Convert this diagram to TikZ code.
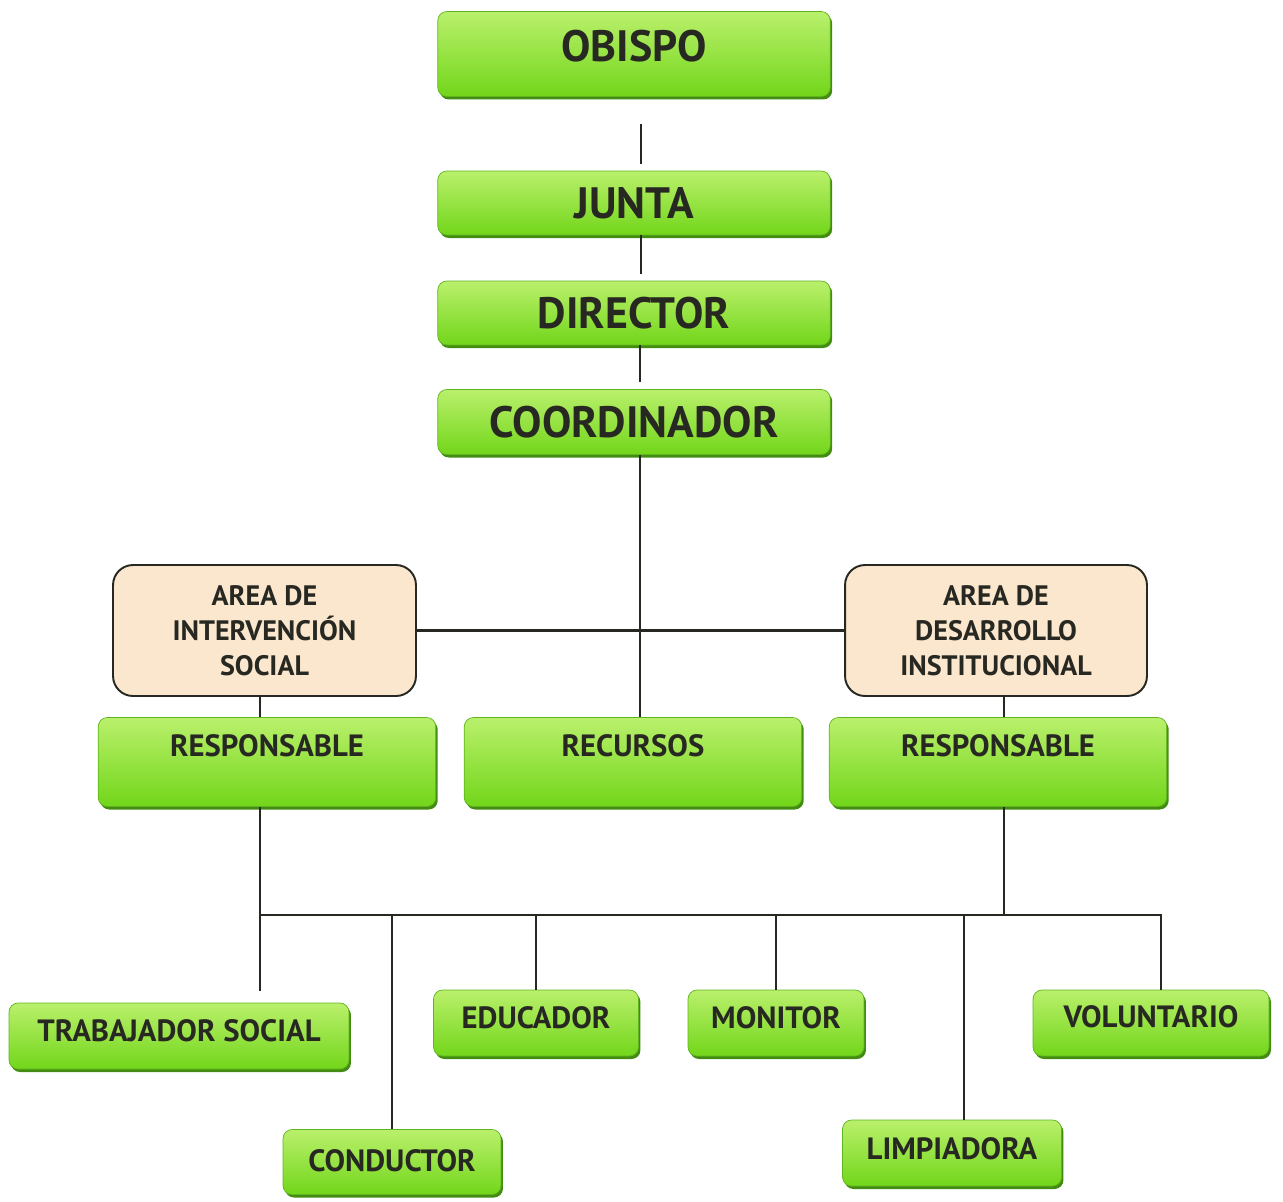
\documentclass[tikz,border=0pt]{standalone}
\usepackage{fontspec}
\setmainfont{PT Sans}
\usetikzlibrary{shadows}
\definecolor{gLight}{RGB}{186,240,108}
\definecolor{gDark}{RGB}{114,214,26}
\definecolor{gShadow}{RGB}{66,140,18}
\definecolor{gEdge}{RGB}{96,180,30}
\definecolor{areaFill}{RGB}{250,231,206}
\definecolor{ink}{RGB}{40,40,34}
\tikzset{
  gbox/.style={rounded corners=0.18cm, draw=gEdge, line width=0.4pt,
    top color=gLight, bottom color=gDark, text=ink,
    font=\bfseries\fontsize{17.5}{19}\selectfont,
    text height=0.43cm, text depth=0pt, inner sep=0pt,
    drop shadow={shadow xshift=0.04cm, shadow yshift=-0.06cm, fill=gShadow, opacity=1}},
  big/.style={font=\bfseries\fontsize{25}{27}\selectfont, text height=0.62cm},
  areabox/.style={rounded corners=0.4cm, draw=ink, line width=1.1pt, fill=areaFill,
    text=ink, align=center, font=\bfseries\fontsize{16}{20}\selectfont, inner sep=0pt},
  link/.style={draw=ink, line width=1.3pt},
  thinlink/.style={draw=ink, line width=0.6pt}
}
\begin{document}
\begin{tikzpicture}[x=0.02cm,y=-0.02cm]
  \useasboundingbox (0,0) rectangle (1283,1201);
  % top chain
  \node[gbox, big, minimum width=7.85cm, minimum height=1.7cm, text depth=0.32cm] (obispo) at (634,54) {OBISPO};
  \node[gbox, big, minimum width=7.85cm, minimum height=1.28cm] (junta) at (634,203) {JUNTA};
  \node[gbox, big, minimum width=7.85cm, minimum height=1.28cm] (director) at (634,313) {DIRECTOR};
  \node[gbox, big, minimum width=7.85cm, minimum height=1.3cm] (coordinador) at (634,422) {COORDINADOR};
  % areas
  \node[areabox, minimum width=6.06cm, minimum height=2.62cm] (areaIS) at (264.5,630.5) {AREA DE\\INTERVENCIÓN\\SOCIAL};
  \node[areabox, minimum width=6.04cm, minimum height=2.62cm] (areaDI) at (996,630.5) {AREA DE\\DESARROLLO\\INSTITUCIONAL};
  % second level
  \node[gbox, minimum width=6.75cm, minimum height=1.78cm, text depth=0.64cm] (respIS) at (267,762) {RESPONSABLE};
  \node[gbox, minimum width=6.75cm, minimum height=1.78cm, text depth=0.64cm] (recursos) at (633,762) {RECURSOS};
  \node[gbox, minimum width=6.75cm, minimum height=1.78cm, text depth=0.64cm] (respDI) at (998,762) {RESPONSABLE};
  % staff
  \node[gbox, minimum width=6.8cm, minimum height=1.32cm, text depth=0.22cm] (trabajador) at (179,1036) {TRABAJADOR SOCIAL};
  \node[gbox, minimum width=4.1cm, minimum height=1.32cm, text depth=0.2cm] (educador) at (536,1023) {EDUCADOR};
  \node[gbox, minimum width=3.52cm, minimum height=1.32cm, text depth=0.2cm] (monitor) at (776,1023) {MONITOR};
  \node[gbox, minimum width=4.72cm, minimum height=1.32cm, text depth=0.26cm] (voluntario) at (1151,1023) {VOLUNTARIO};
  \node[gbox, minimum width=4.36cm, minimum height=1.3cm, text depth=0.06cm] (conductor) at (392,1162) {CONDUCTOR};
  \node[gbox, minimum width=4.38cm, minimum height=1.32cm, text depth=0.18cm] (limpiadora) at (952,1153) {LIMPIADORA};
  % junction points
  \coordinate (spine) at (640,631);
  \coordinate (colIS) at (260,915);
  \coordinate (colDI) at (1004,915);
  \coordinate (busEnd) at (1161,915);
  \coordinate (trabTop) at (260,991);
  \begin{scope}
    \draw[thinlink] ([xshift=0.14cm,yshift=-0.54cm]obispo.south) -- ([xshift=0.14cm,yshift=0.14cm]junta.north);
    \draw[thinlink] ([xshift=0.14cm]junta.south) -- ([xshift=0.14cm,yshift=0.14cm]director.north);
    \draw[thinlink] ([xshift=0.12cm]director.south) -- ([xshift=0.12cm,yshift=0.14cm]coordinador.north);
    \draw[link] (coordinador.south -| spine) -- (recursos.north -| spine);
    \draw[link] (areaIS.east) -- (areaDI.west);
    \draw[link] (areaIS.south -| colIS) -- (respIS.north -| colIS);
    \draw[link] (areaDI.south -| colDI) -- (respDI.north -| colDI);
    \draw[link] (respIS.south -| colIS) -- (trabTop);
    \draw[link] (respDI.south -| colDI) -- (colDI);
    \draw[link] (colIS) -- (busEnd) -- (voluntario.north -| busEnd);
    \draw[link] (conductor.north |- colIS) -- (conductor.north);
    \draw[link] (educador.north |- colIS) -- (educador.north);
    \draw[link] (monitor.north |- colIS) -- (monitor.north);
    \draw[link] ([xshift=0.24cm]limpiadora.north |- colIS) -- ([xshift=0.24cm]limpiadora.north);
  \end{scope}
\end{tikzpicture}
\end{document}
